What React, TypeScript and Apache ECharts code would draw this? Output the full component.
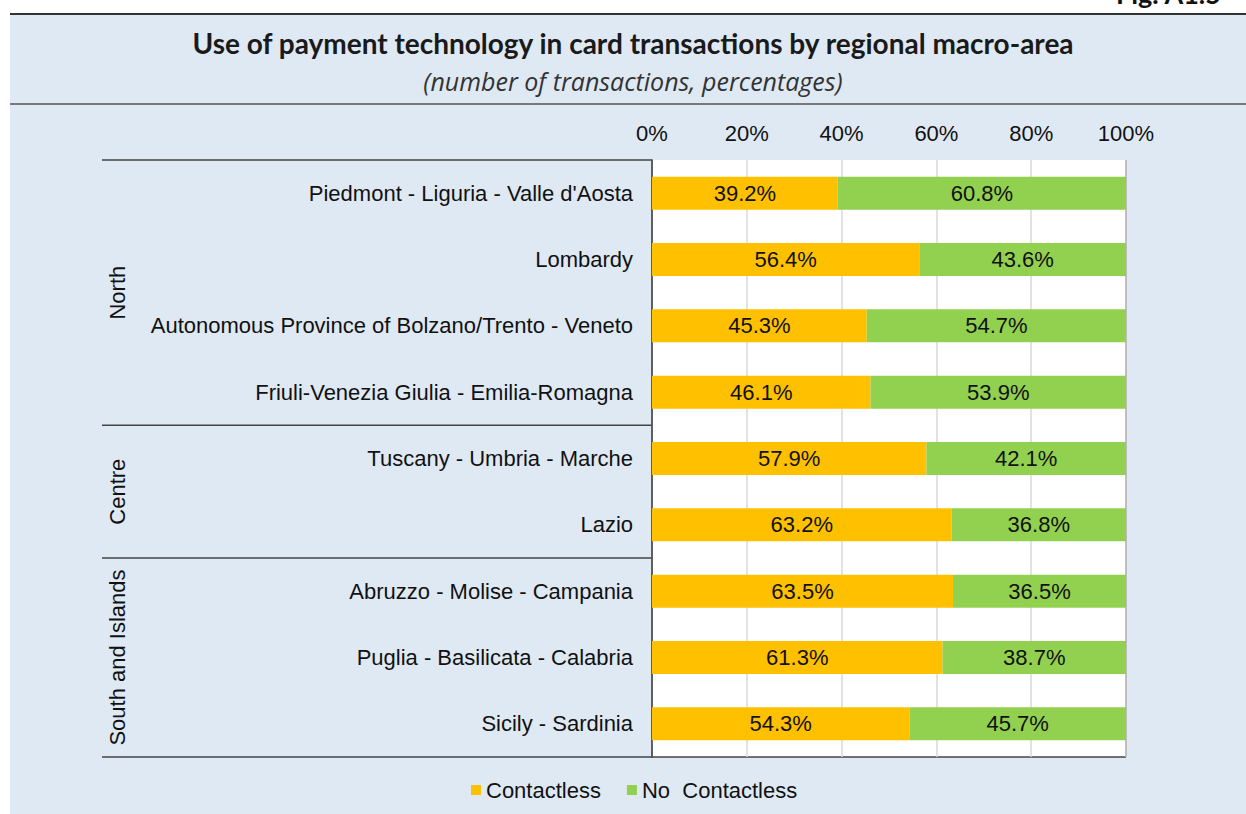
import React, { useEffect, useRef } from "react";
import * as echarts from "echarts";

const categories = [
  "Piedmont - Liguria - Valle d'Aosta",
  "Lombardy",
  "Autonomous Province of Bolzano/Trento - Veneto",
  "Friuli-Venezia Giulia - Emilia-Romagna",
  "Tuscany - Umbria - Marche",
  "Lazio",
  "Abruzzo - Molise - Campania",
  "Puglia - Basilicata - Calabria",
  "Sicily - Sardinia",
];
const contactless = [39.2, 56.4, 45.3, 46.1, 57.9, 63.2, 63.5, 61.3, 54.3];
const noContactless = [60.8, 43.6, 54.7, 53.9, 42.1, 36.8, 36.5, 38.7, 45.7];
const groups = [
  { name: "North", count: 4 },
  { name: "Centre", count: 2 },
  { name: "South and Islands", count: 3 },
];
const seriesNames = ["Contactless", "No  Contactless"];

const W = 1246;
const H = 814;
const GRID = { left: 652, right: 120, top: 160, bottom: 57 };
const FONT = "'Liberation Sans', Arial, sans-serif";
const FS = 22;

export default function App() {
  const ref = useRef<HTMLDivElement>(null);
  useEffect(() => {
    if (!ref.current) return;
    const chart = echarts.init(ref.current, null, { renderer: "svg" });
    const plotTop = GRID.top;
    const plotBottom = H - GRID.bottom;
    const plotRight = W - GRID.right;
    const rowH = (plotBottom - plotTop) / categories.length;
    const graphics: any[] = [
      { type: "rect", z: -10, shape: { x: 10, y: 14, width: W - 10, height: H - 14 }, style: { fill: "#dfe9f3" } },
      { type: "line", shape: { x1: 10, y1: 14, x2: W, y2: 14 }, style: { stroke: "#333", lineWidth: 2 } },
      { type: "line", shape: { x1: 10, y1: 104, x2: W, y2: 104 }, style: { stroke: "#555", lineWidth: 1.5 } },
      { type: "text", x: 1116, y: 7, style: { text: "Fig. A1.5", font: "bold 27px Lato", fill: "#111", textVerticalAlign: "bottom" } },
      { type: "text", x: 633, y: 43, style: { text: "Use of payment technology in card transactions by regional macro-area", font: "bold 28px Lato", fill: "#1a1a1a", textAlign: "center", textVerticalAlign: "middle" } },
      { type: "text", x: 633, y: 81, style: { text: "(number of transactions, percentages)", font: "italic 25px 'Open Sans'", fill: "#333", textAlign: "center", textVerticalAlign: "middle" } },
      { type: "line", shape: { x1: plotRight, y1: plotTop, x2: plotRight, y2: plotBottom }, style: { stroke: "#444", lineWidth: 1.5 } },
    ];
    let acc = 0;
    graphics.push({ type: "line", shape: { x1: 102, y1: plotTop, x2: GRID.left, y2: plotTop }, style: { stroke: "#444", lineWidth: 1.5 } });
    groups.forEach((g, i) => {
      const y0 = plotTop + acc * rowH;
      acc += g.count;
      const y1 = plotTop + acc * rowH;
      const last = i === groups.length - 1;
      graphics.push({
        type: "line",
        shape: { x1: 102, y1, x2: last ? plotRight : GRID.left, y2: y1 },
        style: { stroke: "#444", lineWidth: 1.5 },
      });
      graphics.push({
        type: "text",
        x: 117,
        y: (y0 + y1) / 2,
        rotation: Math.PI / 2,
        style: { text: g.name, font: `${FS}px ${FONT}`, fill: "#111", textAlign: "center", textVerticalAlign: "middle" },
      });
    });
    const label = {
      show: true,
      position: "inside",
      formatter: (p: any) => p.value.toFixed(1) + "%",
      fontSize: FS,
      fontFamily: FONT,
      color: "#111",
    };
    chart.setOption({
      animation: false,
      backgroundColor: "#ffffff",
      grid: { ...GRID, backgroundColor: "#fff", show: true, borderWidth: 0 },
      legend: {
        bottom: 8,
        left: 466,
        itemWidth: 10,
        itemHeight: 10,
        itemGap: 26,
        icon: "rect",
        textStyle: { fontSize: FS, fontFamily: FONT, color: "#111" },
        data: seriesNames,
      },
      xAxis: {
        type: "value",
        position: "top",
        min: 0,
        max: 100,
        interval: 20,
        axisLine: { show: false },
        axisTick: { show: false },
        axisLabel: { formatter: "{value}%", fontSize: FS, fontFamily: FONT, color: "#111", margin: 16 },
        splitLine: { lineStyle: { color: "#d9d9d9", width: 1.5 } },
      },
      yAxis: {
        type: "category",
        data: categories,
        inverse: true,
        axisLine: { show: true, lineStyle: { color: "#333", width: 1.5 } },
        axisTick: { show: false },
        axisLabel: { fontSize: FS, fontFamily: FONT, color: "#111", margin: 19 },
      },
      series: [
        { name: seriesNames[0], type: "bar", stack: "t", data: contactless, barWidth: 33, itemStyle: { color: "#ffc000" }, label },
        { name: seriesNames[1], type: "bar", stack: "t", data: noContactless, barWidth: 33, itemStyle: { color: "#92d050" }, label },
      ],
      graphic: graphics,
    });
    return () => chart.dispose();
  }, []);
  return <div ref={ref} style={{ position: "fixed", left: 0, top: 0, width: W, height: H }} />;
}
